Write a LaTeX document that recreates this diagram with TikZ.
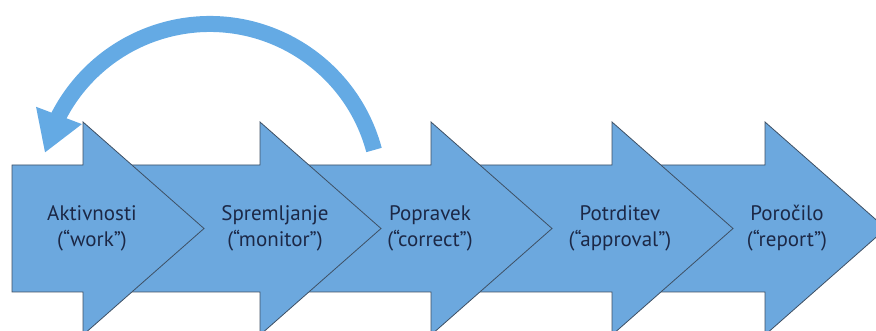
\documentclass[tikz,border=0pt]{standalone}
\usepackage{fontspec}
\setmainfont{PT Sans}
\usetikzlibrary{arrows.meta,bending}

\definecolor{stepfill}{RGB}{108,168,222}
\definecolor{stepline}{RGB}{62,80,100}
\definecolor{loopblue}{RGB}{100,170,228}
\definecolor{labeltext}{RGB}{28,40,70}

\tikzset{
  stepshape/.style={fill=stepfill, draw=stepline, line width=0.8pt, line join=miter},
  steplabel/.style={align=center, text=labeltext, font=\fontsize{21}{26}\selectfont, inner sep=0pt},
  loopline/.style={draw=loopblue, line width=16pt, line cap=butt,
    -{Triangle[width=46pt,length=40pt,flex,color=loopblue]}},
}

% one step: body from x=#1 to the head base at x=#2, head length 121
\newcommand{\processstep}[2]{%
  \path[stepshape] (#1,165) -- (#2,165) -- (#2,122) -- ({#2+121},228.5)
    -- (#2,335) -- (#2,292) -- (#1,292) -- cycle;
}

\begin{document}
\begin{tikzpicture}[x=1pt,y=-1pt]
  \useasboundingbox (0,0) rectangle (876,331);
  \clip (0,0) rectangle (876,331);

  % steps, drawn right to left so each head lies over the next body
  \processstep{617}{765}
  \processstep{436}{612}
  \processstep{265}{431}
  \processstep{88}{260}
  \processstep{12}{83}

  \node[steplabel] (work)    at (92,228)  {Aktivnosti\\(“work”)};
  \node[steplabel] (monitor) at (275,228) {Spremljanje\\(“monitor”)};
  \node[steplabel] (correct) at (430,228) {Popravek\\(“correct”)};
  \node[steplabel] (approve) at (620,228) {Potrditev\\(“approval”)};
  \node[steplabel] (report)  at (787,228) {Poročilo\\(“report”)};

  % feedback loop from the correction step back to the start
  \coordinate (loopstart) at (374,150);
  \draw[loopline] (loopstart) arc[start angle=-15, end angle=-166, radius=170]
    coordinate (loopend);
\end{tikzpicture}
\end{document}
